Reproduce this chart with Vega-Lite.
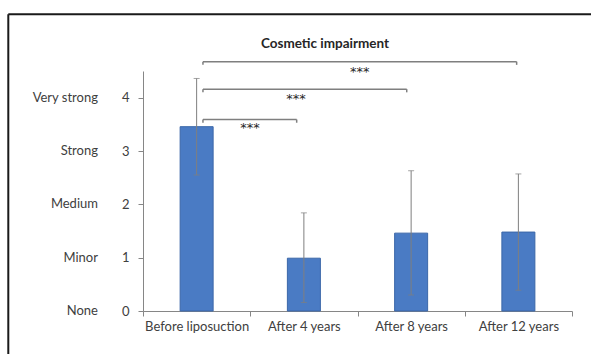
{
  "$schema": "https://vega.github.io/schema/vega-lite/v6.json",
  "width": 429,
  "height": 240,
  "autosize": {"type": "none"},
  "padding": {"left": 143, "top": 71, "right": 19, "bottom": 43},
  "background": "white",
  "config": {
    "font": "Lato",
    "view": {"stroke": null},
    "axis": {"labelFont": "Lato", "labelColor": "#404040", "labelFontSize": 13, "domainColor": "#868686", "tickColor": "#868686", "grid": false, "title": null}
  },
  "datasets": {
    "bars": [
      {"cat": "Before liposuction", "mean": 3.456, "lo": 2.55, "hi": 4.36},
      {"cat": "After 4 years", "mean": 0.99, "lo": 0.16, "hi": 1.84},
      {"cat": "After 8 years", "mean": 1.46, "lo": 0.30, "hi": 2.63},
      {"cat": "After 12 years", "mean": 1.48, "lo": 0.39, "hi": 2.57}
    ],
    "brackets": [
      {"x1": 0.559, "x2": 1.433, "y": 3.59, "yEnd": 3.53, "sx": 0.998, "sy": 3.44, "label": "***"},
      {"x1": 0.559, "x2": 2.459, "y": 4.16, "yEnd": 4.10, "sx": 1.426, "sy": 3.97, "label": "***"},
      {"x1": 0.559, "x2": 3.484, "y": 4.675, "yEnd": 4.615, "sx": 2.02, "sy": 4.49, "label": "***"}
    ],
    "levels": [
      {"name": "None", "v": 0},
      {"name": "Minor", "v": 1},
      {"name": "Medium", "v": 2},
      {"name": "Strong", "v": 3},
      {"name": "Very strong", "v": 4}
    ],
    "titles": [
      {"text": "Cosmetic impairment", "x": 1.697, "y": 5.0}
    ]
  },
  "layer": [
    {
      "data": {"name": "bars"},
      "encoding": {
        "x": {"field": "cat", "type": "nominal", "sort": null,
              "scale": {"paddingInner": 0, "paddingOuter": 0},
              "axis": {"labelAngle": 0, "tickBand": "extent", "tickSize": 5, "labelPadding": 4, "title": null}}
      },
      "layer": [
        {
          "mark": {"type": "bar", "width": 33, "fill": "#4a7bc4", "stroke": "#3b67a8", "strokeWidth": 1},
          "encoding": {
            "y": {"field": "mean", "type": "quantitative",
                  "scale": {"domain": [0, 4.5], "nice": false, "zero": true},
                  "axis": {"values": [0, 1, 2, 3, 4], "tickSize": 5, "labelPadding": 9, "title": null}}
          }
        },
        {
          "mark": {"type": "rule", "color": "#7f7f7f", "strokeWidth": 1},
          "encoding": {
            "y": {"field": "lo", "type": "quantitative", "title": null},
            "y2": {"field": "hi"}
          }
        },
        {
          "mark": {"type": "tick", "orient": "horizontal", "size": 6, "thickness": 1, "color": "#7f7f7f"},
          "encoding": {"y": {"field": "hi", "type": "quantitative", "title": null}}
        },
        {
          "mark": {"type": "tick", "orient": "horizontal", "size": 6, "thickness": 1, "color": "#7f7f7f"},
          "encoding": {"y": {"field": "lo", "type": "quantitative", "title": null}}
        }
      ]
    },
    {
      "layer": [
        {
          "data": {"name": "brackets"},
          "mark": {"type": "rule", "color": "#7f7f7f", "strokeWidth": 1.5},
          "encoding": {
            "x": {"field": "x1", "type": "quantitative", "scale": {"domain": [0, 4], "nice": false, "zero": false}, "axis": null},
            "x2": {"field": "x2"},
            "y": {"field": "y", "type": "quantitative", "title": null}
          }
        },
        {
          "data": {"name": "brackets"},
          "mark": {"type": "rule", "color": "#7f7f7f", "strokeWidth": 1.5},
          "encoding": {
            "x": {"field": "x1", "type": "quantitative", "axis": null},
            "y": {"field": "y", "type": "quantitative", "title": null},
            "y2": {"field": "yEnd"}
          }
        },
        {
          "data": {"name": "brackets"},
          "mark": {"type": "rule", "color": "#7f7f7f", "strokeWidth": 1.5},
          "encoding": {
            "x": {"field": "x2", "type": "quantitative", "axis": null},
            "y": {"field": "y", "type": "quantitative", "title": null},
            "y2": {"field": "yEnd"}
          }
        },
        {
          "data": {"name": "brackets"},
          "mark": {"type": "text", "fontSize": 13, "color": "#262626", "baseline": "middle", "align": "center", "font": "DejaVu Sans"},
          "encoding": {
            "x": {"field": "sx", "type": "quantitative", "axis": null},
            "y": {"field": "sy", "type": "quantitative", "title": null},
            "text": {"field": "label"}
          }
        },
        {
          "data": {"name": "levels"},
          "mark": {"type": "text", "fontSize": 13, "color": "#404040", "baseline": "middle", "align": "right", "font": "Lato"},
          "encoding": {
            "x": {"datum": -0.42, "type": "quantitative", "axis": null},
            "y": {"field": "v", "type": "quantitative", "title": null},
            "text": {"field": "name"}
          }
        },
        {
          "data": {"name": "titles"},
          "mark": {"type": "text", "fontSize": 13.5, "fontWeight": "bold", "color": "#262626", "baseline": "middle", "align": "center", "font": "Lato"},
          "encoding": {
            "x": {"field": "x", "type": "quantitative", "axis": null},
            "y": {"field": "y", "type": "quantitative", "title": null},
            "text": {"field": "text"}
          }
        },
        {
          "data": {"values": [{}]},
          "mark": {"type": "rule", "color": "#1a1a1a", "strokeWidth": 2},
          "encoding": {
            "x": {"datum": -1.256, "type": "quantitative", "axis": null},
            "y": {"datum": -1.2, "type": "quantitative", "title": null},
            "y2": {"datum": 5.563}
          }
        },
        {
          "data": {"values": [{}]},
          "mark": {"type": "rule", "color": "#1a1a1a", "strokeWidth": 2},
          "encoding": {
            "x": {"datum": -1.256, "type": "quantitative", "axis": null},
            "x2": {"datum": 4.4},
            "y": {"datum": 5.563, "type": "quantitative", "title": null}
          }
        }
      ]
    }
  ],
  "resolve": {"scale": {"x": "independent"}, "axis": {"x": "independent"}}
}
